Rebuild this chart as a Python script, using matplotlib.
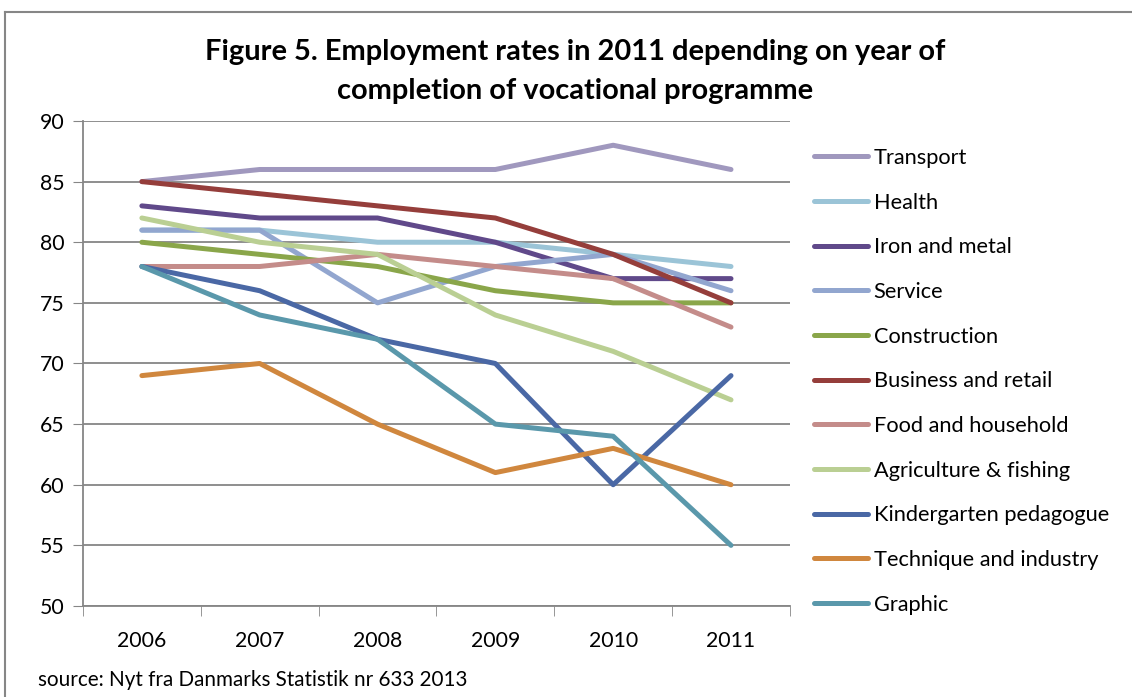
import matplotlib.pyplot as plt
from matplotlib.lines import Line2D

plt.rcParams['font.family'] = ['Lato', 'DejaVu Sans']

years = ['2006', '2007', '2008', '2009', '2010', '2011']

transport = [85, 86, 86, 86, 88, 86]
health = [81, 81, 80, 80, 79, 78]
iron_metal = [83, 82, 82, 80, 77, 77]
service = [81, 81, 75, 78, 79, 76]
construction = [80, 79, 78, 76, 75, 75]
business_retail = [85, 84, 83, 82, 79, 75]
food_household = [78, 78, 79, 78, 77, 73]
agriculture = [82, 80, 79, 74, 71, 67]
kindergarten = [78, 76, 72, 70, 60, 69]
technique = [69, 70, 65, 61, 63, 60]
graphic = [78, 74, 72, 65, 64, 55]

series = [
    ('Transport', transport, '#a098be'),
    ('Health', health, '#9bc4d7'),
    ('Iron and metal', iron_metal, '#60498a'),
    ('Service', service, '#92a6cf'),
    ('Construction', construction, '#8aa64a'),
    ('Business and retail', business_retail, '#953e3b'),
    ('Food and household', food_household, '#c48c8a'),
    ('Agriculture & fishing', agriculture, '#bacf93'),
    ('Kindergarten pedagogue', kindergarten, '#4a68a5'),
    ('Technique and industry', technique, '#d0873e'),
    ('Graphic', graphic, '#5a98ab'),
]

fig = plt.figure(figsize=(11.32, 6.97), dpi=100)
ax = fig.add_axes([0.0733, 0.1306, 0.6245, 0.6958])

x = list(range(len(years)))
for name, vals, col in series:
    ax.plot(x, vals, color=col, lw=3.6, label=name,
            solid_capstyle='round', solid_joinstyle='round')

ax.set_ylim(50, 90)
ax.set_yticks(range(50, 91, 5))
ax.set_xlim(-0.5, len(years) - 0.5)
ax.set_xticks(x)
ax.set_xticklabels(years)
ax.set_xticks([i - 0.5 for i in range(len(years) + 1)], minor=True)
ax.tick_params(axis='x', which='major', length=0, pad=18, labelsize=15.3)
ax.tick_params(axis='x', which='minor', length=7, color='#868686', direction='out')
ax.tick_params(axis='y', length=7, color='#868686', labelsize=15.3, pad=6)
ax.grid(axis='y', color='#868686', lw=1.3)
ax.set_axisbelow(True)
for s in ['top', 'right']:
    ax.spines[s].set_visible(False)
for s in ['left', 'bottom']:
    ax.spines[s].set_color('#868686')
    ax.spines[s].set_linewidth(1.3)

fig.text(0.508, 0.897, 'Figure 5. Employment rates in 2011 depending on year of\ncompletion of vocational programme',
         ha='center', va='center', fontsize=20.9, fontweight='bold', linespacing=1.62)

fig.legend(loc='upper left', bbox_to_anchor=(0.711, 0.8), frameon=False,
           fontsize=15.7, handlelength=2.5, handletextpad=0.25, labelspacing=1.13,
           borderaxespad=0)

fig.text(0.034, 0.0244, 'source: Nyt fra Danmarks Statistik nr 633 2013', fontsize=14.9, va='center')

fig.add_artist(Line2D([0.0045, 1.0], [0.983, 0.983], color='#868686', lw=1.5, transform=fig.transFigure))
fig.add_artist(Line2D([0.0045, 0.0045], [0.0, 0.983], color='#868686', lw=1.5, transform=fig.transFigure))

fig.savefig('out.png', dpi=100)
